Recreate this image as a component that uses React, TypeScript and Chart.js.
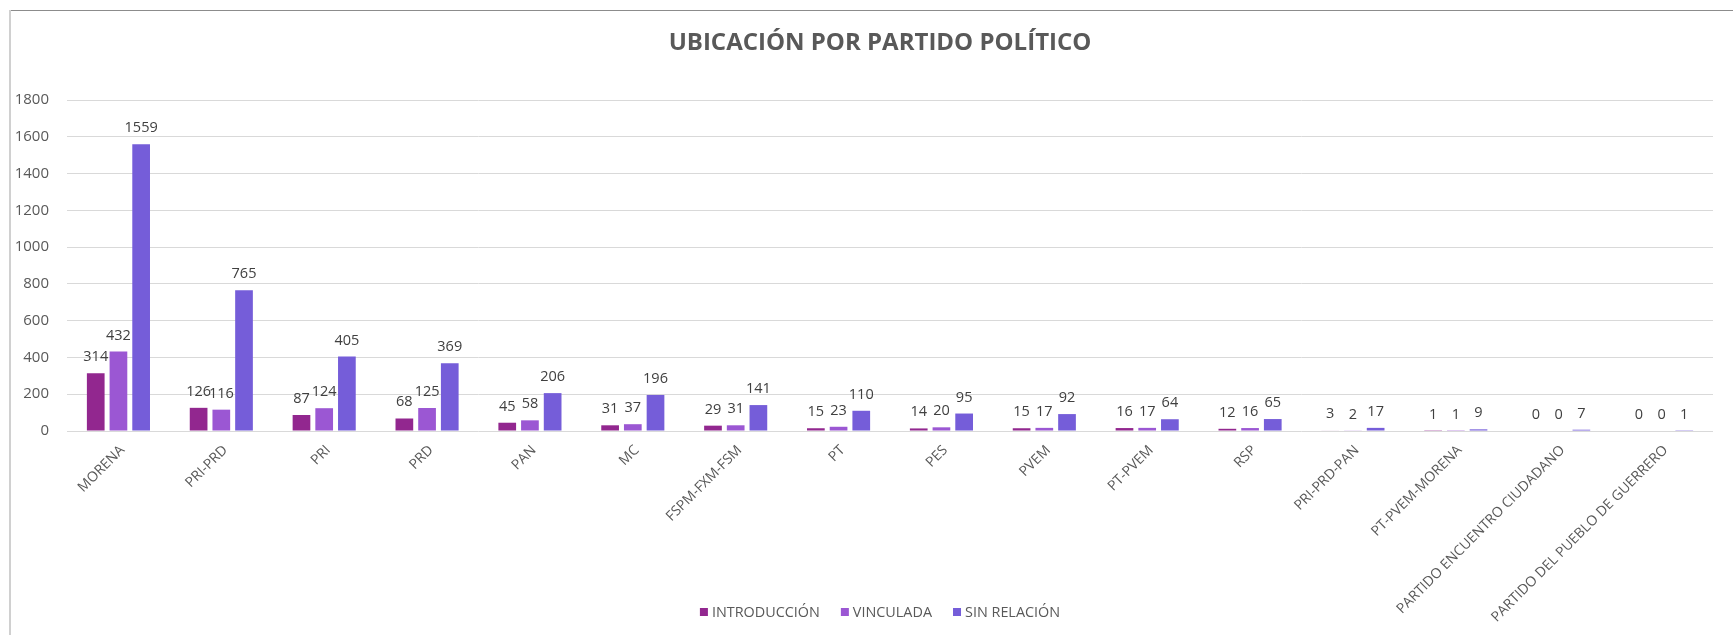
import React, { useEffect, useRef } from "react";
import { Chart, registerables } from "chart.js";

Chart.register(...registerables);

const categories = [
  "MORENA",
  "PRI-PRD",
  "PRI",
  "PRD",
  "PAN",
  "MC",
  "FSPM-FXM-FSM",
  "PT",
  "PES",
  "PVEM",
  "PT-PVEM",
  "RSP",
  "PRI-PRD-PAN",
  "PT-PVEM-MORENA",
  "PARTIDO ENCUENTRO CIUDADANO",
  "PARTIDO DEL PUEBLO DE GUERRERO",
];

const introduccion = [314, 126, 87, 68, 45, 31, 29, 15, 14, 15, 16, 12, 3, 1, 0, 0];
const vinculada = [432, 116, 124, 125, 58, 37, 31, 23, 20, 17, 17, 16, 2, 1, 0, 0];
const sinRelacion = [1559, 765, 405, 369, 206, 196, 141, 110, 95, 92, 64, 65, 17, 9, 7, 1];

const seriesNames = ["INTRODUCCIÓN", "VINCULADA", "SIN RELACIÓN"];
const seriesColors = ["#92278F", "#9B57D3", "#755DD9"];

const titleText = "UBICACIÓN POR PARTIDO POLÍTICO";
const FONT = "'Open Sans', 'Noto Sans', sans-serif";

const decorPlugin = {
  id: "decor",
  beforeDraw(chart: any) {
    const ctx = chart.ctx;
    ctx.save();
    ctx.fillStyle = "#ffffff";
    ctx.fillRect(0, 0, chart.width, chart.height);
    ctx.strokeStyle = "#8c8c8c";
    ctx.lineWidth = 1;
    ctx.beginPath();
    ctx.moveTo(9, 10.5);
    ctx.lineTo(chart.width, 10.5);
    ctx.stroke();
    ctx.strokeStyle = "#d0d0d0";
    ctx.lineWidth = 2;
    ctx.beginPath();
    ctx.moveTo(10, 10);
    ctx.lineTo(10, chart.height);
    ctx.stroke();
    ctx.restore();
  },
  afterDraw(chart: any) {
    const ctx = chart.ctx;
    const area = chart.chartArea;
    ctx.save();
    ctx.fillStyle = "#595959";
    ctx.font = `bold 24px ${FONT}`;
    ctx.textAlign = "center";
    ctx.textBaseline = "middle";
    ctx.fillText(titleText, (area.left + area.right) / 2 - 10, 43);

    ctx.font = `14.5px ${FONT}`;
    ctx.fillStyle = "#404040";
    ctx.textAlign = "center";
    ctx.textBaseline = "alphabetic";
    chart.data.datasets.forEach((ds: any, i: number) => {
      const meta = chart.getDatasetMeta(i);
      meta.data.forEach((bar: any, j: number) => {
        ctx.fillText(String(ds.data[j]), bar.x, bar.y - 12);
      });
    });

    ctx.font = `14.4px ${FONT}`;
    ctx.textBaseline = "middle";
    ctx.textAlign = "left";
    const box = 8;
    const gap = 4;
    const spacing = 21;
    const widths = seriesNames.map((n) => box + gap + ctx.measureText(n).width);
    const total = widths.reduce((a, b) => a + b, 0) + spacing * (seriesNames.length - 1);
    let x = 880 - total / 2;
    const y = 612;
    seriesNames.forEach((n, i) => {
      ctx.fillStyle = seriesColors[i];
      ctx.fillRect(x, y - box / 2, box, box);
      ctx.fillStyle = "#595959";
      ctx.fillText(n, x + box + gap, y + 1);
      x += widths[i] + spacing;
    });
    ctx.restore();
  },
};

export default function App() {
  const ref = useRef<HTMLCanvasElement | null>(null);

  useEffect(() => {
    document.body.style.margin = "0";
    document.body.style.overflow = "hidden";
    if (!ref.current) return;
    const data = [introduccion, vinculada, sinRelacion];
    const chart = new Chart(ref.current, {
      type: "bar",
      data: {
        labels: categories,
        datasets: seriesNames.map((name, i) => ({
          label: name,
          data: data[i],
          backgroundColor: seriesColors[i],
          borderWidth: 0,
          categoryPercentage: 0.662,
          barPercentage: 0.78,
        })),
      },
      options: {
        animation: false,
        responsive: false,
        layout: { padding: { top: 100, left: 10, right: 20, bottom: 0 } },
        plugins: {
          legend: { display: false },
          title: { display: false },
          tooltip: { enabled: false },
        },
        scales: {
          x: {
            grid: { display: false, drawTicks: false },
            border: { display: false },
            ticks: {
              color: "#595959",
              font: { family: FONT, size: 14 },
              minRotation: 45,
              maxRotation: 45,
              autoSkip: false,
              padding: 11,
              labelOffset: 4,
            },
            afterFit(scale: any) {
              scale.height = 204;
            },
          },
          y: {
            min: 0,
            max: 1800,
            grid: { color: "#d9d9d9", lineWidth: 1, drawTicks: false },
            border: { display: false },
            ticks: {
              stepSize: 200,
              color: "#595959",
              font: { family: FONT, size: 15 },
              padding: 18,
              callback: (v: any) => String(v),
            },
            afterFit(scale: any) {
              scale.width = 57;
            },
          },
        },
      },
      plugins: [decorPlugin],
    });
    return () => chart.destroy();
  }, []);

  return (
    <div style={{ width: 1733, height: 635 }}>
      <canvas ref={ref} width={1733} height={635} style={{ display: "block" }} />
    </div>
  );
}
